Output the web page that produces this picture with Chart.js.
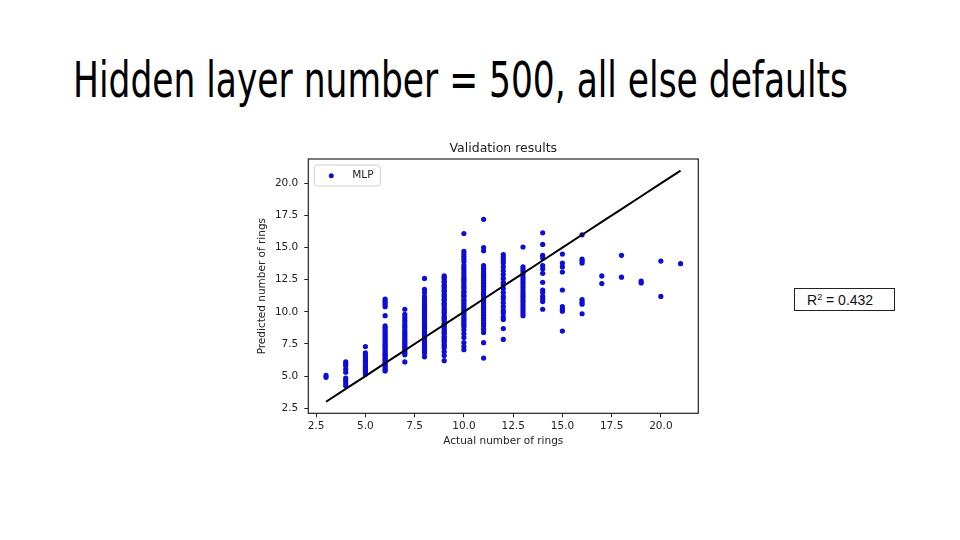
<!DOCTYPE html>
<html>
<head>
<meta charset="utf-8">
<script src="https://cdn.jsdelivr.net/npm/chart.js@4.4.0/dist/chart.umd.min.js"></script>
<style>
  html, body { margin: 0; padding: 0; background: #fff; }
  body { width: 960px; height: 540px; position: relative; overflow: hidden; }
  #title {
    position: absolute; left: 73px; top: 55px;
    font-family: "Liberation Sans Narrow", "DejaVu Sans Condensed", sans-serif;
    font-size: 50px; line-height: 50px; white-space: nowrap; color: #000;
    transform-origin: 0 0;
  }
  #plot { position: absolute; left: 250px; top: 135px; }
  #r2 {
    position: absolute; left: 794px; top: 288px; width: 101px; height: 23px;
    box-sizing: border-box; border: 1px solid #222; padding-left: 12px;
    font-family: "Liberation Sans", sans-serif; font-size: 14px; line-height: 22px; color: #111;
  }
  #r2 sup { font-size: 9px; line-height: 0; vertical-align: 5px; }
</style>
</head>
<body>
<div id="title">Hidden layer number = 500, all else defaults</div>
<canvas id="plot" width="460" height="320"></canvas>
<div id="r2">R<sup>2</sup> = 0.432</div>
<script>
// actual ring counts (x) and the predictions read for each of them (y)
var rings = [3, 4, 5, 6, 7, 8, 9, 10, 11, 12, 13, 14, 15, 16, 17, 18, 19, 20, 21];

var pred3 = [5.05, 4.9];
var pred4 = [6.1, 5.95, 5.8, 5.55, 5.3, 4.85, 4.65, 4.45, 4.25];
var pred5 = [7.3, 6.8, 6.65, 6.5, 6.35, 6.2, 6.1, 5.95, 5.8, 5.7, 5.6, 5.45, 5.35, 5.25, 5.15];
var pred6 = [11.0, 10.85, 10.7, 10.55, 10.4, 9.7, 8.9, 8.75, 8.6, 8.45, 8.3, 8.15, 8.0, 7.85, 7.7,
    7.55, 7.4, 7.3, 7.15, 7.0, 6.85, 6.7, 6.6, 6.45, 6.3, 6.2, 6.05, 5.9, 5.8, 5.65, 5.5, 5.4];
var pred7 = [10.2, 9.8, 9.55, 9.35, 9.15, 8.95, 8.8, 8.6, 8.45, 8.3, 8.15, 8.0, 7.85, 7.7, 7.55,
    7.4, 7.25, 7.1, 6.95, 6.8, 6.65, 6.1];
var pred8 = [12.6, 11.75, 11.5, 11.2, 11.0, 10.8, 10.6, 10.45, 10.3, 10.15, 10.0, 9.85, 9.7, 9.6,
    9.4, 9.25, 9.1, 8.95, 8.8, 8.7, 8.5, 8.35, 8.2, 8.05, 7.9, 7.75, 7.6, 7.45, 7.3, 7.15, 7.0, 6.8, 6.5];
var pred9 = [12.8, 12.7, 12.55, 12.4, 12.3, 12.1, 12.0, 11.85, 11.7, 11.6, 11.4, 11.3, 11.15, 11.0,
    10.9, 10.7, 10.6, 10.45, 10.3, 10.15, 10.0, 9.9, 9.7, 9.55, 9.45, 9.3, 9.1, 9.0, 8.85, 8.7, 8.55,
    8.4, 8.3, 8.1, 7.95, 7.8, 7.7, 7.5, 7.35, 7.2, 6.9, 6.6, 6.2];
var pred10 = [16.1, 14.7, 14.5, 14.3, 14.1, 13.9, 13.6, 13.4, 13.2, 13.0, 12.8, 12.6, 12.45, 12.3,
    12.1, 11.95, 11.8, 11.6, 11.5, 11.3, 11.2, 11.0, 10.85, 10.7, 10.55, 10.4, 10.25, 10.1, 9.95, 9.8,
    9.6, 9.45, 9.3, 9.15, 9.0, 8.85, 8.6, 8.3, 8.0, 7.6, 7.3, 7.05];
var pred11 = [17.2, 15.0, 14.75, 13.6, 13.4, 13.2, 13.0, 12.85, 12.7, 12.5, 12.35, 12.2, 12.0, 11.85,
    11.7, 11.5, 11.35, 11.2, 11.0, 10.85, 10.7, 10.5, 10.35, 10.2, 10.0, 9.85, 9.7, 9.5, 9.3, 9.1,
    8.9, 8.65, 8.4, 7.6, 6.4];
var pred12 = [14.45, 14.25, 14.0, 13.8, 13.5, 13.2, 12.9, 12.6, 12.3, 12.1, 11.8, 11.5, 11.2, 11.0,
    10.7, 10.4, 10.1, 9.9, 9.6, 9.4, 8.7, 7.85];
var pred13 = [15.05, 13.5, 13.3, 13.1, 12.9, 12.7, 12.5, 12.3, 12.1, 11.9, 11.7, 11.5, 11.3, 11.1,
    10.9, 10.7, 10.5, 10.3, 10.1, 9.9, 9.7];
var pred14 = [16.15, 15.25, 14.4, 14.2, 13.6, 13.35, 13.0, 12.3, 11.7, 11.5, 11.2, 11.0, 10.8, 10.2];
var pred15 = [14.5, 13.8, 13.5, 13.1, 11.7, 10.4, 10.2, 10.05, 8.5];
var pred16 = [16.0, 14.1, 13.95, 13.8, 10.95, 10.75, 10.6, 9.85];
var pred17 = [12.8, 12.2];
var pred18 = [14.4, 12.7];
var pred19 = [12.4, 12.25];
var pred20 = [13.95, 11.2];
var pred21 = [13.75];

var predictedByRing = [pred3, pred4, pred5, pred6, pred7, pred8, pred9, pred10, pred11, pred12,
    pred13, pred14, pred15, pred16, pred17, pred18, pred19, pred20, pred21];

var tickValues = [2.5, 5.0, 7.5, 10.0, 12.5, 15.0, 17.5, 20.0];
var axisMin = 2.1, axisMax = 21.9;

// squeeze the slide title into the width it has on the slide
var t = document.getElementById('title');
t.style.transform = 'scaleX(' + (775 / t.getBoundingClientRect().width) + ')';

var points = [];
rings.forEach(function (r, i) {
    predictedByRing[i].forEach(function (p) { points.push({x: r, y: p}); });
});
var diagonal = rings.map(function (r) { return {x: r, y: r}; });

var axisFont = {family: 'DejaVu Sans', size: 10.5};
var inkColor = '#222';
var dotColor = '#0d0dd6';

function axisOptions(titleText, fitFn, titlePad, tickPad) {
    return {
        type: 'linear',
        min: axisMin,
        max: axisMax,
        afterBuildTicks: function (scale) {
            scale.ticks = tickValues.map(function (v) { return {value: v}; });
        },
        afterFit: fitFn,
        border: {display: false},
        grid: {drawOnChartArea: false, drawTicks: true, tickLength: 4, color: inkColor},
        ticks: {
            color: inkColor, font: axisFont, padding: tickPad,
            autoSkip: false, maxRotation: 0,
            callback: function (v) { return Number(v).toFixed(1); }
        },
        title: {display: true, text: titleText, color: inkColor, font: axisFont, padding: titlePad}
    };
}

// frame round the plot area and the legend box inside it
var framePlugin = {
    id: 'frame',
    afterDraw: function (chart) {
        var ctx = chart.ctx, a = chart.chartArea;
        ctx.save();
        ctx.strokeStyle = inkColor;
        ctx.lineWidth = 1.2;
        ctx.strokeRect(a.left, a.top, a.width, a.height);

        var lx = a.left + 6, ly = a.top + 6, lw = 66, lh = 21;
        ctx.beginPath();
        ctx.roundRect(lx, ly, lw, lh, 3);
        ctx.fillStyle = 'rgba(255,255,255,0.85)';
        ctx.fill();
        ctx.strokeStyle = '#d0d0d0';
        ctx.lineWidth = 1;
        ctx.stroke();

        ctx.beginPath();
        ctx.arc(lx + 17, ly + 10.7, 2.5, 0, Math.PI * 2);
        ctx.fillStyle = dotColor;
        ctx.fill();
        ctx.fillStyle = inkColor;
        ctx.font = '10.5px "DejaVu Sans"';
        ctx.textBaseline = 'middle';
        ctx.fillText(chart.data.datasets[1].label, lx + 38, ly + 10.7);
        ctx.restore();
    }
};

var myScatter = new Chart(document.getElementById('plot'), {
    type: 'scatter',
    data: {
        datasets: [
            {
                type: 'line',
                label: 'y = x',
                data: diagonal,
                borderColor: '#000',
                borderWidth: 2,
                pointRadius: 0,
                fill: false,
                order: 0
            },
            {
                label: 'MLP',
                data: points,
                pointRadius: 2.6,
                pointBorderWidth: 0,
                pointBackgroundColor: dotColor,
                order: 1
            }
        ]
    },
    options: {
        responsive: false,
        animation: false,
        layout: {padding: {left: 0, right: 11.7, top: 0, bottom: 0}},
        plugins: {
            legend: {display: false},
            tooltip: {enabled: false},
            title: {
                display: true,
                text: 'Validation results',
                fullSize: false,
                color: inkColor,
                font: {family: 'DejaVu Sans', size: 12.5, weight: 'normal'},
                padding: {top: 6.5, bottom: 2.5}
            }
        },
        scales: {
            x: axisOptions('Actual number of rings',
                function (s) { s.height = 41.7; }, {top: 0, bottom: 7}, 2.5),
            y: axisOptions('Predicted number of rings',
                function (s) { s.width = 58.3; }, {top: 5.7, bottom: 0}, 6)
        }
    },
    plugins: [framePlugin]
});
</script>
</body>
</html>
